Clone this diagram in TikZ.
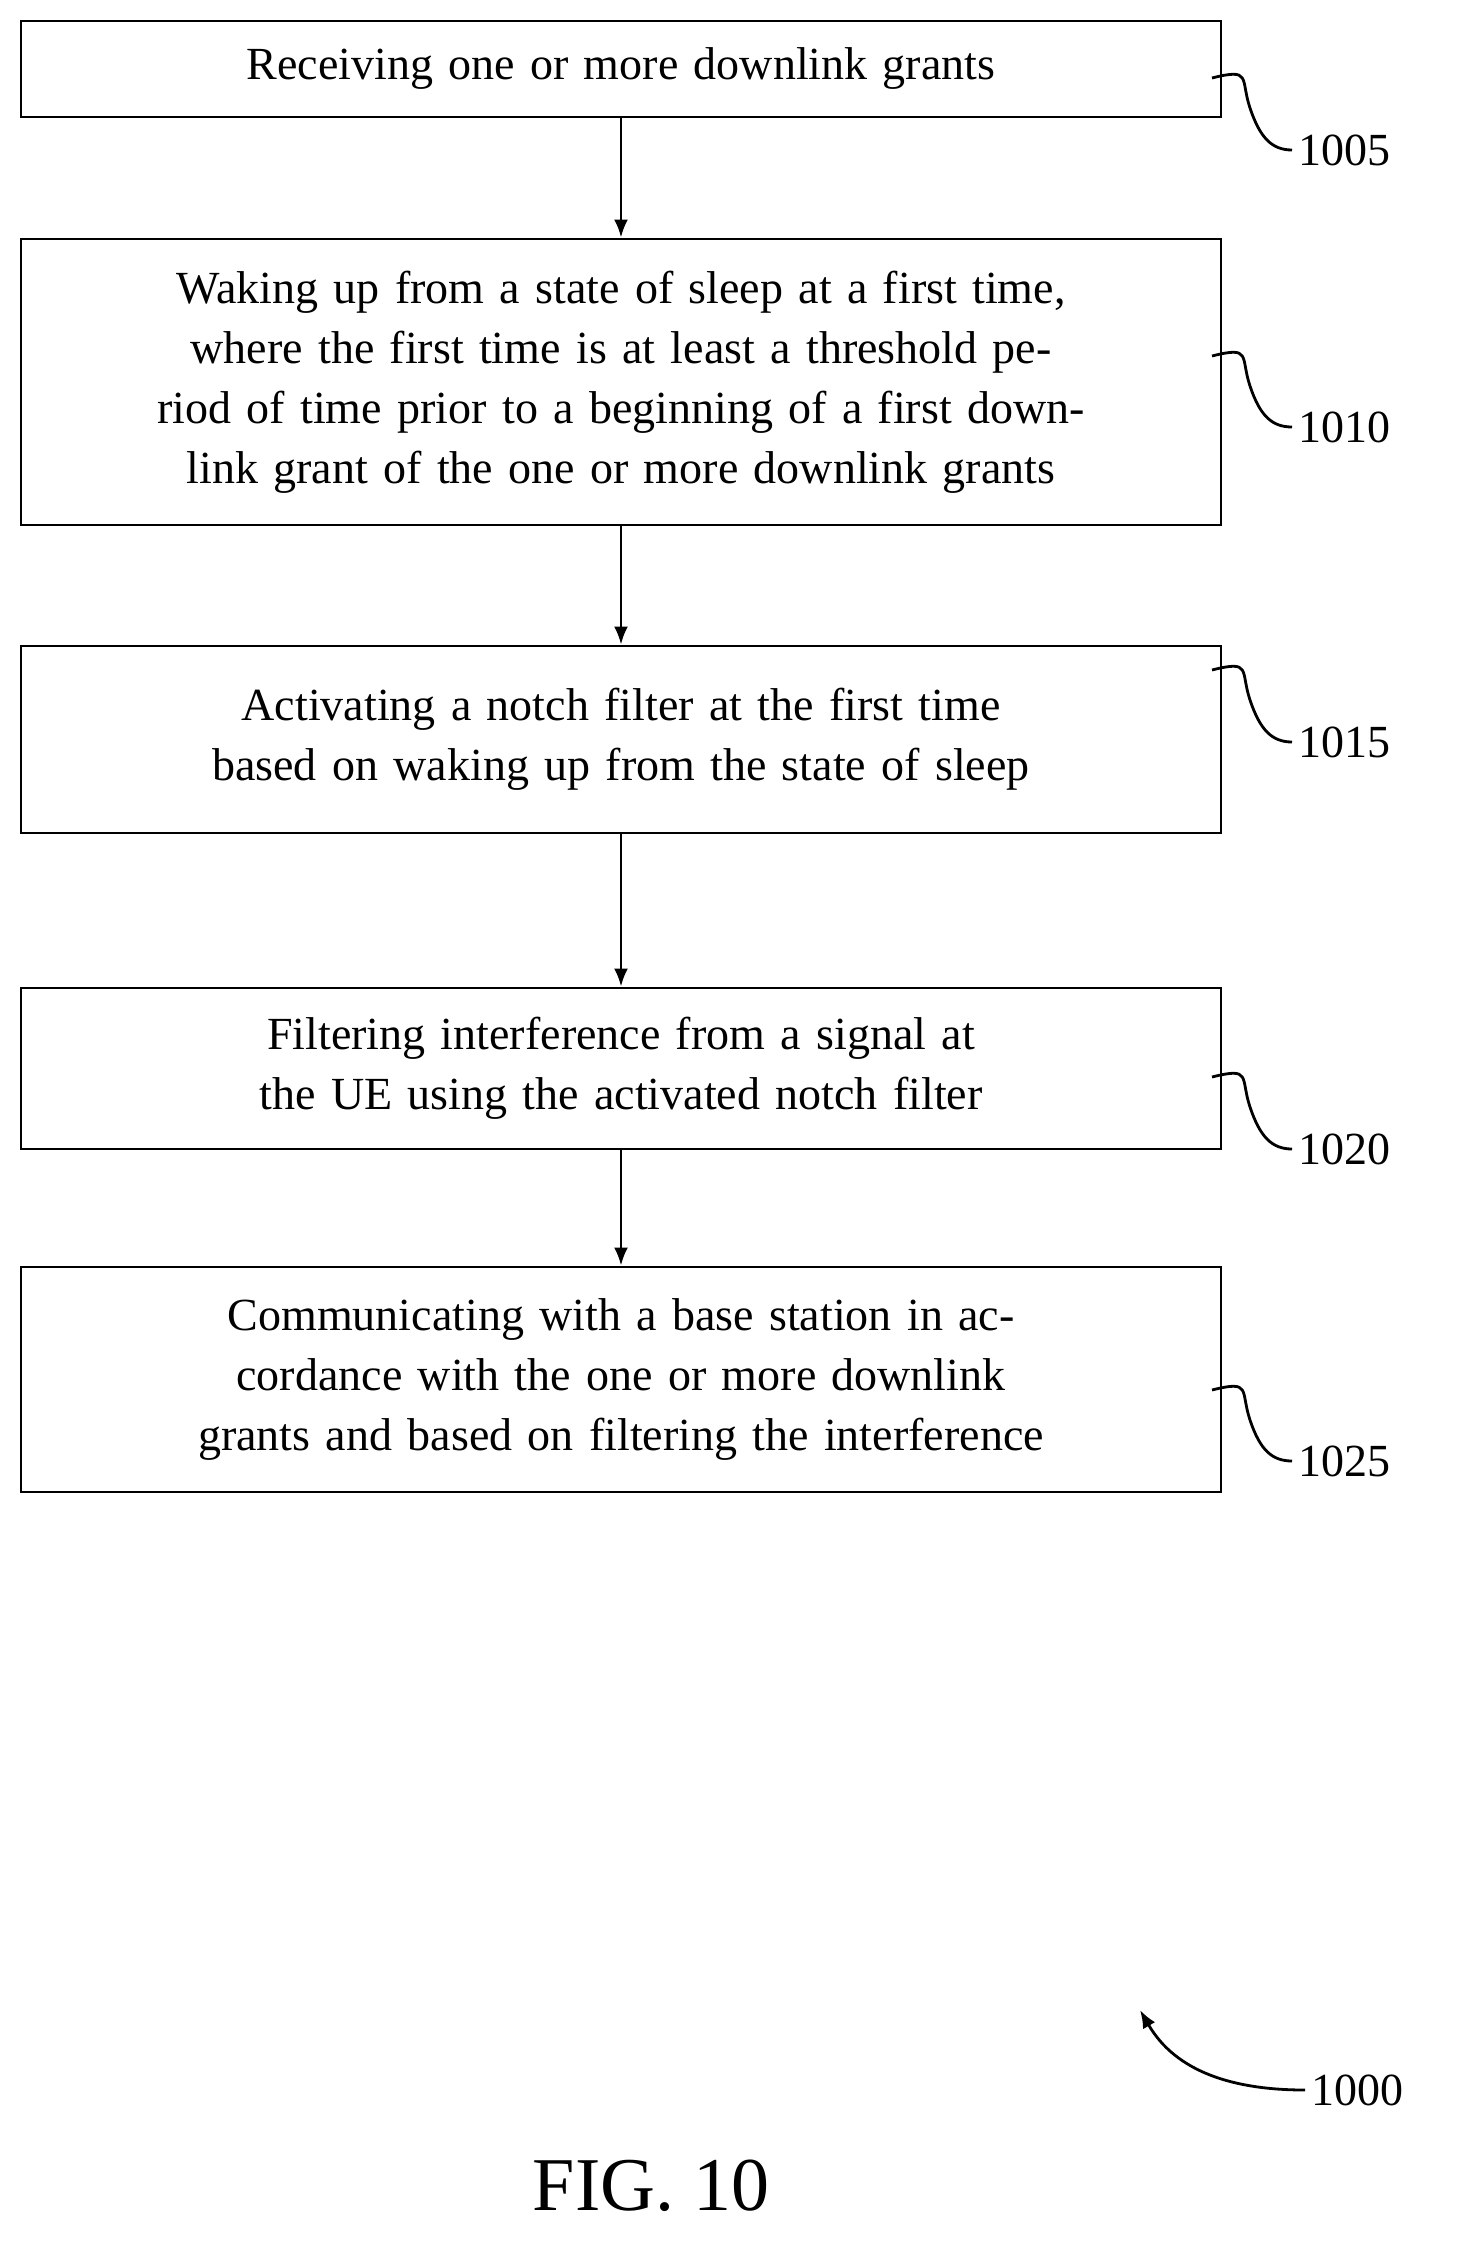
\documentclass[tikz,border=0pt]{standalone}
\usepackage{fontspec}
\setmainfont{Liberation Serif}
\usetikzlibrary{positioning,arrows.meta}

\begin{document}
\begin{tikzpicture}[x=0.5pt,y=-0.5pt,>={Latex[length=9pt,width=7pt]}]
\tikzstyle{stepbox}=[rectangle,draw,line width=1.4pt,minimum width=600pt,text width=585pt,align=center,font=\fontsize{23}{30}\selectfont,inner sep=0pt]
\tikzstyle{ref}=[font=\fontsize{23}{25}\selectfont,anchor=west,inner sep=3pt]
\tikzstyle{flow}=[->,line width=1.4pt]
\tikzstyle{squig}=[line width=1.4pt]
\useasboundingbox (0,0) rectangle (1458,2258);
\node[stepbox,minimum height=48pt](s1005) at (621,69) {Receiving one or more downlink grants};
\node[stepbox,minimum height=143pt](s1010) at (621,382) {Waking up from a state of sleep at a first time, where the first time is at least a threshold period of time prior to a beginning of a first downlink grant of the one or more downlink grants};
\node[stepbox,minimum height=93.5pt](s1015) at (621,739.5) {Activating a notch filter at the first time based on waking up from the state of sleep};
\node[stepbox,minimum height=80.5pt](s1020) at (621,1068.5) {Filtering interference from a signal at the UE using the activated notch filter};
\node[stepbox,minimum height=112.5pt](s1025) at (621,1379.5) {Communicating with a base station in accordance with the one or more downlink grants and based on filtering the interference};
\draw[flow] (s1005) -- (s1010);
\draw[flow] (s1010) -- (s1015);
\draw[flow] (s1015) -- (s1020);
\draw[flow] (s1020) -- (s1025);
% reference numerals
\node[ref](l1005) at (1292,150) {1005};
\node[ref](l1010) at (1292,427) {1010};
\node[ref](l1015) at (1292,742) {1015};
\node[ref](l1020) at (1292,1149) {1020};
\node[ref](l1025) at (1292,1461) {1025};
\coordinate (c1005) at (1212,78);
\coordinate (c1010) at (1212,356);
\coordinate (c1015) at (1212,670);
\coordinate (c1020) at (1212,1077);
\coordinate (c1025) at (1212,1390);
\foreach \n in {1005,1010,1015,1020,1025}
  \draw[squig] (c\n) .. controls +(40,-10) and +(-10,-30) .. +(38,30) .. controls +(10,30) and +(-20,0) .. (l\n.west);
\node[ref](l1000) at (1305,2090) {1000};
\coordinate (c1000) at (1140,2010);
\draw[flow] (l1000.west) to[out=180,in=-60] (c1000);
\node[font=\fontsize{38}{40}\selectfont](fig) at (651,2186) {FIG. 10};
\end{tikzpicture}
\end{document}
